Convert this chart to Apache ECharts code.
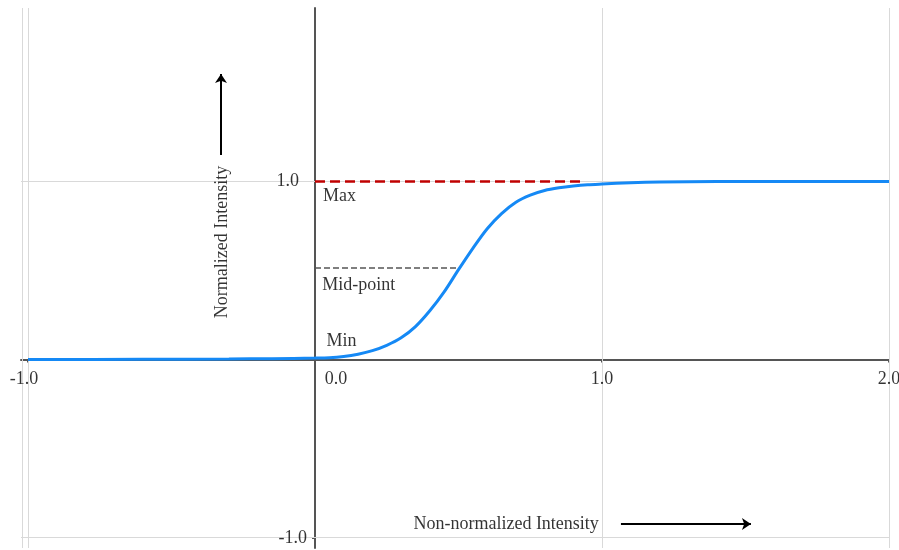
<!DOCTYPE html>
<html>
<head>
<meta charset="utf-8">
<script src="https://cdn.jsdelivr.net/npm/echarts@6/dist/echarts.min.js"></script>
<style>
html,body{margin:0;padding:0;background:#fff;}
#c{width:899px;height:550px;}
</style>
</head>
<body>
<div id="c"></div>
<script>
// ---- data ----
var xRange = [-1.0244, 2.0];
var yRange = [-1.059, 1.975];
var xTicks = [-1, 0, 1, 2];
var yTicks = [-1, 1];
var xGrid = [-1, 1, 2];
var yGrid = [1, -1];
var curveX = [-1.0, -0.6, -0.3, -0.15, 0.0, 0.05, 0.10, 0.15, 0.20, 0.25, 0.30, 0.35, 0.40, 0.45, 0.50, 0.55, 0.60, 0.65, 0.70, 0.75, 0.80, 0.85, 0.90, 0.95, 1.00, 1.10, 1.20, 1.40, 1.70, 2.00];
var curveY = [0.0, 0.001, 0.003, 0.005, 0.008, 0.010, 0.017, 0.030, 0.050, 0.080, 0.122, 0.185, 0.274, 0.38, 0.505, 0.625, 0.735, 0.82, 0.884, 0.924, 0.950, 0.965, 0.975, 0.982, 0.986, 0.993, 0.997, 1.0, 1.0, 1.0];
var maxLine = { y: 1.0, x0: 0, x1: 0.926 };
var midLine = { y: 0.515, x0: 0, x1: 0.50 };
var notes = [
  { text: 'Max', x: 0.028, y: 0.918 },
  { text: 'Mid-point', x: 0.025, y: 0.419 },
  { text: 'Min', x: 0.040, y: 0.104 }
];
var yTitle = { text: 'Normalized Intensity', x: -0.324, y: 0.66 };
var xTitle = { text: 'Non-normalized Intensity', x: 0.666, y: -0.924 };
var upArrow = { x: -0.3275, y0: 1.149, y1: 1.604 };
var rightArrow = { y: -0.924, x0: 1.066, x1: 1.519 };

var FONT = 'Liberation Serif';
var chart = echarts.init(document.getElementById('c'), null, { renderer: 'canvas' });

var gridLines = [];
xGrid.forEach(function (v) { gridLines.push({ xAxis: v }); });
yGrid.forEach(function (v) { gridLines.push({ yAxis: v }); });
gridLines.push({ xAxis: xRange[0] });
gridLines.push({ yAxis: yRange[0] });

var noteData = notes.map(function (n) {
  return { value: [n.x, n.y], label: { formatter: n.text, position: 'right', align: 'left' } };
});
noteData.push({ value: [yTitle.x, yTitle.y], label: { formatter: yTitle.text, rotate: 90, position: 'inside', align: 'center', verticalAlign: 'middle' } });
noteData.push({ value: [xTitle.x, xTitle.y], label: { formatter: xTitle.text, position: 'inside', align: 'center', verticalAlign: 'middle' } });

var tickLabelData = [];
xTicks.forEach(function (v) {
  var off = v === 0 ? [21, 0] : (v < 0 ? [-4, 0] : [0, 0]);
  tickLabelData.push({ value: [v, 0], label: { formatter: v.toFixed(1), position: 'bottom', distance: 11, offset: off } });
});
yTicks.forEach(function (v) {
  tickLabelData.push({ value: [0, v], label: { formatter: v.toFixed(1), position: 'left', distance: v === 1 ? 16 : 8, offset: v < 0 ? [0, 1] : [0, 0] } });
});

var option = {
  animation: false,
  backgroundColor: '#fff',
  grid: { left: 21, right: 10, top: 8, bottom: 2, containLabel: false, outerBoundsMode: 'none' },
  xAxis: {
    type: 'value', min: xRange[0], max: xRange[1], z: 3,
    axisLine: { onZero: true, lineStyle: { color: '#555', width: 2 } },
    axisTick: { show: true, customValues: [-1, 1, 2], length: 3, lineStyle: { color: '#555', width: 2 } },
    axisLabel: { show: false },
    splitLine: { show: false }
  },
  yAxis: {
    type: 'value', min: yRange[0], max: yRange[1], z: 3,
    axisLine: { onZero: true, lineStyle: { color: '#555', width: 2 } },
    axisTick: { show: true, customValues: [-1], length: 3, lineStyle: { color: '#555', width: 2 } },
    axisLabel: { show: false },
    splitLine: { show: false }
  },
  series: [
    {
      type: 'line', data: [], z: 1, silent: true,
      markLine: {
        silent: true, symbol: ['none', 'none'], label: { show: false },
        lineStyle: { color: '#d9d9d9', width: 1, type: 'solid' },
        data: gridLines
      }
    },
    {
      type: 'line', data: [], z: 4, silent: true,
      markLine: {
        silent: true, symbol: ['none', 'none'], label: { show: false },
        data: [
          [{ coord: [maxLine.x0, maxLine.y], lineStyle: { color: '#c00000', width: 2.5, type: [10, 5] } }, { coord: [maxLine.x1, maxLine.y] }],
          [{ coord: [midLine.x0, midLine.y], lineStyle: { color: '#555', width: 1.5, type: [6, 3] } }, { coord: [midLine.x1, midLine.y] }]
        ]
      }
    },
    {
      type: 'line', z: 5, showSymbol: false, smooth: 0.3, silent: true,
      lineStyle: { color: '#1589f5', width: 3 },
      data: curveX.map(function (x, i) { return [x, curveY[i]]; })
    },
    {
      type: 'line', data: [], z: 6, silent: true,
      markLine: {
        silent: true, symbol: ['none', 'arrow'], symbolSize: 9, label: { show: false },
        lineStyle: { color: '#000', width: 2, type: 'solid' },
        data: [
          [{ coord: [upArrow.x, upArrow.y0] }, { coord: [upArrow.x, upArrow.y1] }],
          [{ coord: [rightArrow.x0, rightArrow.y] }, { coord: [rightArrow.x1, rightArrow.y] }]
        ]
      }
    },
    {
      type: 'scatter', z: 7, silent: true, symbolSize: 0,
      label: { show: true, color: '#000', fontFamily: FONT, fontSize: 18, distance: 0 },
      data: noteData
    },
    {
      type: 'scatter', z: 7, silent: true, symbolSize: 0,
      label: { show: true, color: '#000', fontFamily: FONT, fontSize: 18 },
      data: tickLabelData
    }
  ]
};
chart.setOption(option);
</script>
</body>
</html>
